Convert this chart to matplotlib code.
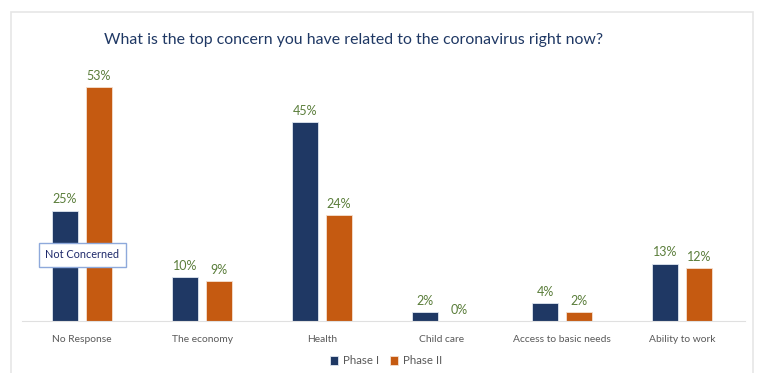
import matplotlib.pyplot as plt
from matplotlib.patches import Rectangle

categories = ['No Response', 'The economy', 'Health', 'Child care',
              'Access to basic needs', 'Ability to work']
phase1 = [25, 10, 45, 2, 4, 13]
phase2 = [53, 9, 24, 0, 2, 12]
seriesNames = ['Phase I', 'Phase II']
colors = ['#1F3864', '#C55A11']
labelColor = '#5A7D3A'

plt.rcParams['font.family'] = ['Lato', 'DejaVu Sans']

fig = plt.figure(figsize=(7.59, 3.73), dpi=100)
W, H = 759, 373

# outer frame
fig.patches.append(Rectangle((11 / W, -0.05), (753 - 11) / W, 1.05 - 12 / H,
                             transform=fig.transFigure, fill=False,
                             edgecolor='#E6E6E6', linewidth=1.2))

ax = fig.add_axes([22 / W, (H - 321) / H, (745 - 22) / W, 265 / H])
ax.set_ylim(0, 60)
ax.set_xlim((22 - 82) / 120, (745 - 82) / 120)

x = list(range(len(categories)))
offset = 17 / 120
width = 26 / 120
b1 = ax.bar([i - offset for i in x], phase1, width, color=colors[0],
            edgecolor='#dfe6f0', linewidth=0.6, label=seriesNames[0])
b2 = ax.bar([i + offset for i in x], phase2, width, color=colors[1],
            edgecolor='#f5e0d0', linewidth=0.6, label=seriesNames[1])

for bars, vals in [(b1, phase1), (b2, phase2)]:
    for rect, v in zip(bars, vals):
        ax.text(rect.get_x() + rect.get_width() / 2, v + 1.2, str(v) + '%',
                ha='center', va='bottom', fontsize=9, color=labelColor)

for s in ['top', 'right', 'left']:
    ax.spines[s].set_visible(False)
ax.spines['bottom'].set_color('#E0E0E0')
ax.set_yticks([])
ax.set_xticks(x)
ax.set_xticklabels(categories, fontsize=7.4, color='#595959')
ax.tick_params(axis='x', length=0, pad=10)
ax.set_facecolor('none')

ax.text(0, 15, 'Not Concerned', ha='center', va='center', fontsize=7.8,
        color='#1F2A6B',
        bbox=dict(boxstyle='square,pad=0.6', facecolor='white',
                  edgecolor='#8EA9DB', linewidth=1))

fig.text(354 / W, 1 - 40 / H,
         'What is the top concern you have related to the coronavirus right now?',
         ha='center', va='center', fontsize=11.4, color='#1F3864')

fig.legend(handles=[b1, b2], labels=seriesNames, loc='center',
           bbox_to_anchor=(386 / W, 1 - 361 / H), ncol=2, frameon=False,
           fontsize=8.3, handlelength=0.7, handleheight=0.7,
           handletextpad=0.4, columnspacing=1.0, labelcolor='#595959')

fig.savefig('out.png', dpi=100)
